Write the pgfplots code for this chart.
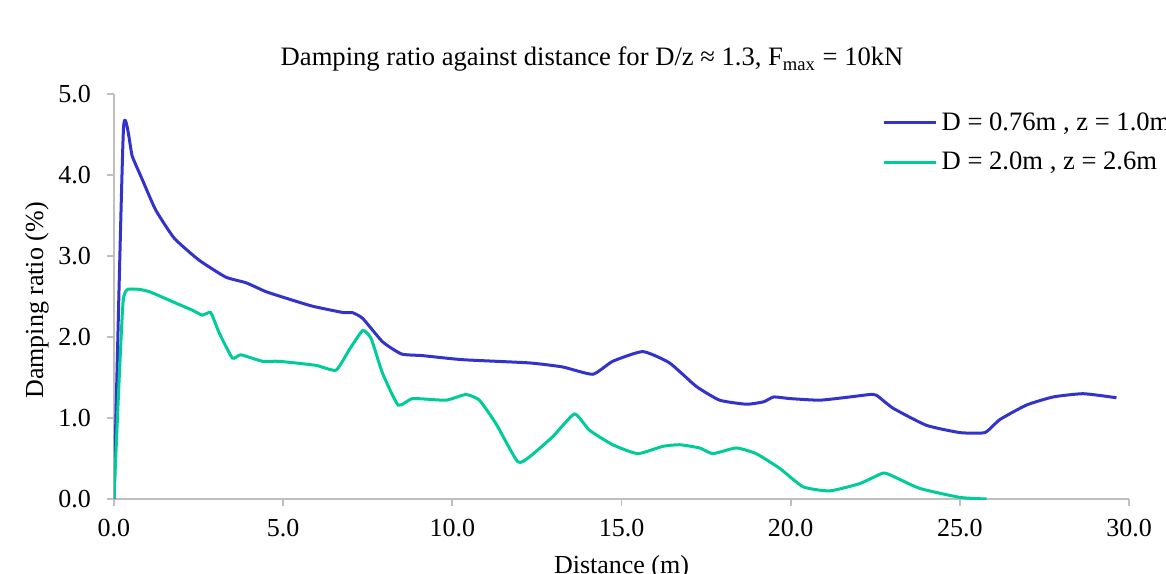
\documentclass[border=0pt]{standalone}
\usepackage{pgfplots}
\pgfplotsset{compat=1.18}
\usepackage{fontspec}
\setmainfont{Liberation Serif}
\definecolor{cblue}{RGB}{51,51,204}
\definecolor{cgreen}{RGB}{0,204,153}
\definecolor{axgray}{RGB}{191,191,191}
\begin{document}
\begin{tikzpicture}
\path (-57pt,-37pt) rectangle (526pt,249.5pt);
\begin{scope}[overlay]
\begin{axis}[
 at={(0,0)}, anchor=south west,
 scale only axis, width=507.5pt, height=202.5pt,
 xmin=0, xmax=30, ymin=0, ymax=5,
 axis x line*=bottom, axis y line*=left,
 axis line style={-, axgray, line width=0.9pt},
 xtick={0,5,...,30}, ytick={0,1,...,5},
 tick align=outside, major tick length=3.5pt,
 tick style={axgray, line width=0.9pt},
 minor tick num=0,
 xticklabel style={/pgf/number format/fixed, /pgf/number format/fixed zerofill, /pgf/number format/precision=1, /pgf/number format/assume math mode=true, font=\fontsize{13}{15}\selectfont, text=black, yshift=-3pt},
 yticklabel style={/pgf/number format/fixed, /pgf/number format/fixed zerofill, /pgf/number format/precision=1, /pgf/number format/assume math mode=true, font=\fontsize{13}{15}\selectfont, text=black, xshift=-4.5pt},
 title={Damping ratio against distance for D/z ≈ 1.3, F\textsubscript{max} = 10kN},
 title style={font=\fontsize{13.3}{15}\selectfont, at={(axis description cs:0.471,1.056)}, anchor=center},
 xlabel={Distance (m)},
 xlabel style={font=\fontsize{13}{15}\selectfont, at={(axis description cs:0.500,-0.168)}, anchor=center},
 ylabel={Damping ratio (\%)},
 ylabel style={font=\fontsize{13}{15}\selectfont, at={(axis description cs:-0.076,0.49)}, anchor=center},
 legend style={draw=none, fill=none, font=\fontsize{13.3}{15}\selectfont,
   at={(axis description cs:0.751,0.975)}, anchor=north west, row sep=5.5pt},
 legend cell align=left,
 legend image code/.code={\draw[#1] (0pt,0pt) -- (26pt,0pt);},
]
\addplot[cblue, line width=1.5pt, smooth, tension=0.3] coordinates {
(0,0) (0.28,4.57) (0.54,4.23) (0.84,3.94) (1.23,3.57) (1.78,3.22) (2.51,2.95)
(3.30,2.74) (3.9,2.67) (4.49,2.56) (5.08,2.48) (5.87,2.38) (6.80,2.30) (7.05,2.30)
(7.35,2.23) (7.94,1.94) (8.5,1.79) (9.12,1.77) (10.3,1.72) (12.28,1.68) (13.26,1.63)
(14.15,1.54) (14.74,1.70) (15.63,1.82) (16.42,1.68) (17.21,1.39) (17.9,1.22)
(18.69,1.17) (19.2,1.20) (19.5,1.26) (19.97,1.24) (20.86,1.22) (21.75,1.26)
(22.34,1.29) (22.54,1.28) (23.03,1.12) (24.01,0.91) (25.0,0.82) (25.74,0.82)
(26.18,0.98) (26.97,1.16) (27.76,1.26) (28.65,1.30) (29.63,1.25)
};
\addlegendentry{D = 0.76m , z = 1.0m}
\addplot[cgreen, line width=1.5pt, smooth, tension=0.3] coordinates {
(0,0) (0.27,2.44) (0.59,2.59) (1.04,2.56) (1.82,2.42) (2.32,2.33) (2.61,2.27)
(2.86,2.30) (3.11,2.05) (3.5,1.74) (3.75,1.78) (4.39,1.70) (4.88,1.70) (5.97,1.65)
(6.56,1.59) (6.95,1.84) (7.35,2.08) (7.6,1.98) (7.94,1.55) (8.4,1.16) (8.83,1.24)
(9.81,1.22) (10.4,1.29) (10.8,1.22) (11.29,0.93) (11.93,0.46) (12.28,0.52)
(12.97,0.77) (13.61,1.05) (14.05,0.85) (14.74,0.67) (15.48,0.56) (16.22,0.65)
(16.72,0.67) (17.31,0.63) (17.7,0.56) (18.39,0.63) (18.98,0.56) (19.67,0.38)
(20.37,0.15) (21.15,0.10) (22.04,0.19) (22.73,0.32) (23.03,0.28) (23.82,0.13)
(25.0,0.02) (25.79,0.0)
};
\addlegendentry{D = 2.0m , z = 2.6m}
\end{axis}
\end{scope}
\end{tikzpicture}
\end{document}
